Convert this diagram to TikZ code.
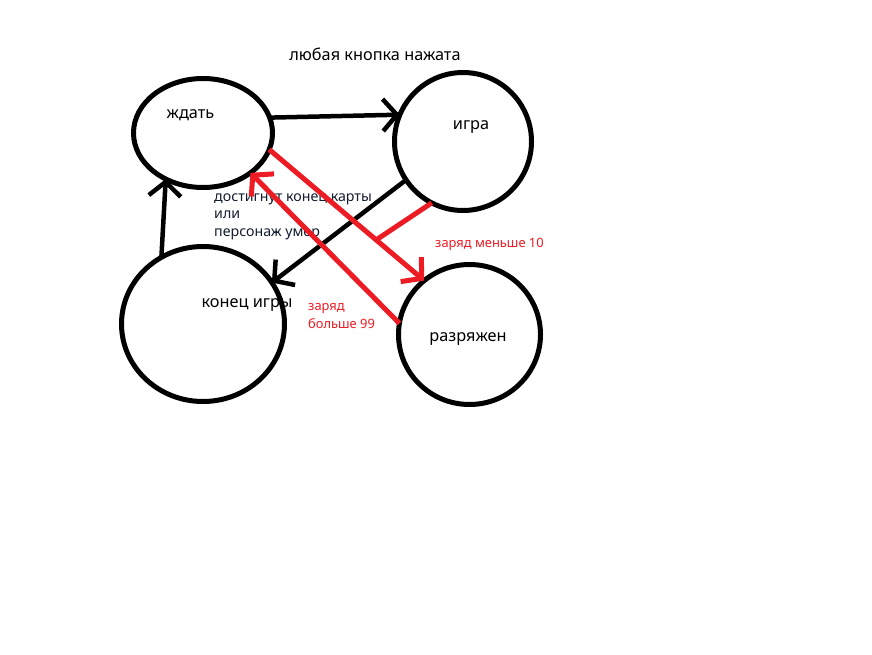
\documentclass[tikz,border=0pt]{standalone}
\usepackage{fontspec}
\setmainfont{Noto Sans}
\usetikzlibrary{arrows.meta,shapes.geometric,calc}

\definecolor{paintred}{RGB}{237,28,36}
\definecolor{labelink}{RGB}{20,28,48}

\tikzset{
  state/.style={draw=black, line width=5pt, ellipse, inner sep=0pt, outer sep=0pt},
  statetext/.style={anchor=base, inner sep=0pt, font=\fontsize{16.3}{19}\selectfont},
  note/.style={anchor=base west, inner sep=0pt, font=\fontsize{14.2}{17}\selectfont},
  rednote/.style={anchor=base west, inner sep=0pt, text=paintred, font=\fontsize{12.9}{15}\selectfont},
  barb/.style={-{Straight Barb[length=14pt,width=32pt]}},
  blackedge/.style={barb, draw=black, line width=4.5pt},
  rededge/.style={barb, draw=paintred, line width=5pt},
}

\begin{document}
\begin{tikzpicture}[x=1pt,y=-1pt]
  \path[fill=white, use as bounding box] (0,0) rectangle (872,655);

  % states
  \node[state, minimum width=139pt, minimum height=109pt] (wait) at (203,133) {};
  \node[state, minimum width=137pt, minimum height=138pt] (game) at (463,141.5) {};
  \node[state, minimum width=163pt, minimum height=155pt] (over) at (203,324) {};
  \node[state, minimum width=142pt, minimum height=140pt] (low)  at (469.5,334.5) {};

  % state names
  \node[statetext] (twait) at (190.5,119) {ждать};
  \node[statetext] (tgame) at (471,130) {игра};
  \node[statetext] (tover) at (247,307) {конец игры};
  \node[statetext] (tlow)  at (468,341) {разряжен};

  % transition labels
  \node[statetext] (lpress) at (375,61) {любая кнопка нажата};
  \node[note, text=labelink] (lend1) at (214,201) {достигнут конец карты};
  \node[note, text=labelink] (lend2) at (214,218) {или};
  \node[note, text=labelink] (lend3) at (214,236) {персонаж умер};
  \node[rednote] (llow)  at (435,247) {заряд меньше 10};
  \node[rednote] (lhi1)  at (308,310) {заряд};
  \node[rednote] (lhi2)  at (308,328) {больше 99};

  % transitions
  \draw[blackedge] (wait.13) -- (game.157);
  \draw[blackedge] (over.122) -- (wait.231);
  \draw[blackedge] (game.214) -- (over.31);
  \draw[rededge] (wait.346) -- (low.130);
  \draw[rededge] (low.171) -- (wait.320);

  % marker tying the lower label to the red transition
  \coordinate (tick) at ($(wait.346)!0.69!(low.130)$);
  \draw[draw=paintred, line width=5pt] (game.243) -- (tick);
\end{tikzpicture}
\end{document}
